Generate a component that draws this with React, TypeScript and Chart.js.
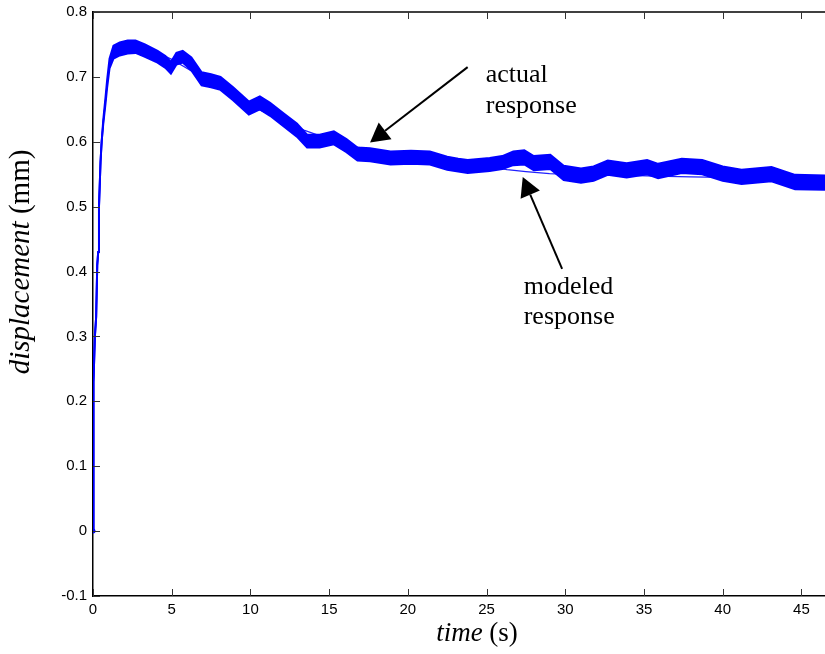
import { useEffect, useRef } from 'react';
import { Chart, registerables } from 'chart.js';

Chart.register(...registerables);

// ---- data ----
// actual (measured) response: band times, upper and lower envelope of the noisy trace
const actualTime = [
  0, 0.01, 0.03, 0.05, 0.12, 0.2, 0.27, 0.33, 0.38, 0.48, 0.55, 0.65, 0.8, 0.9, 1.05, 1.3, 1.7, 2.2, 2.7,
  3.3, 4.1, 4.6, 4.95, 5.3, 5.7, 6.25, 6.9, 7.5, 8.1, 8.9, 9.9, 10.6, 11.25, 12.1, 12.95, 13.6, 14.4,
  15.3, 16.1, 16.8, 17.6, 18.9, 20.2, 21.4, 22.5, 23.2, 23.8, 25.2, 26.0, 26.7, 27.4, 28.0, 29.05, 29.9,
  31.0, 31.8, 32.7, 33.9, 35.2, 35.9, 37.4, 38.7, 40.0, 41.2, 43.1, 44.6, 46.5,
];
const actualUpper = [
  0, 0.10, 0.135, 0.23, 0.30, 0.33, 0.41, 0.43, 0.50, 0.57, 0.60, 0.633, 0.670, 0.696, 0.728, 0.748, 0.753,
  0.756, 0.756, 0.750, 0.740, 0.732, 0.723, 0.737, 0.740, 0.730, 0.707, 0.704, 0.700, 0.684, 0.662, 0.670,
  0.660, 0.644, 0.628, 0.611, 0.611, 0.616, 0.604, 0.591, 0.590, 0.585, 0.586, 0.585, 0.577, 0.574, 0.572,
  0.575, 0.578, 0.585, 0.587, 0.578, 0.580, 0.563, 0.559, 0.562, 0.571, 0.567, 0.572, 0.566, 0.574, 0.572,
  0.562, 0.557, 0.561, 0.549, 0.548,
];
const actualLower = [
  0, 0.10, 0.135, 0.23, 0.30, 0.33, 0.41, 0.43, 0.50, 0.57, 0.60, 0.627, 0.660, 0.684, 0.713, 0.728, 0.733,
  0.736, 0.737, 0.731, 0.722, 0.714, 0.705, 0.719, 0.722, 0.710, 0.687, 0.684, 0.680, 0.664, 0.642, 0.650,
  0.640, 0.624, 0.608, 0.591, 0.591, 0.596, 0.584, 0.571, 0.570, 0.565, 0.566, 0.565, 0.557, 0.554, 0.552,
  0.555, 0.558, 0.564, 0.565, 0.556, 0.558, 0.541, 0.537, 0.540, 0.549, 0.545, 0.550, 0.544, 0.552, 0.550,
  0.540, 0.535, 0.539, 0.527, 0.526,
];

// modeled response (thin smooth line)
const modelTime = [
  0, 0.01, 0.03, 0.05, 0.12, 0.2, 0.27, 0.33, 0.38, 0.48, 0.55, 0.65, 0.8, 0.9, 1.05, 1.5, 2.2, 3.0, 4.0,
  4.5, 5.0, 6.2, 7.0, 8.0, 9.0, 10.0, 10.6, 12.0, 13.4, 15.0, 16.8, 18.9, 20.0, 22.0, 24.0, 26.3, 27.5,
  29.0, 31.0, 33.0, 35.7, 38.0, 40.0, 43.0, 46.5,
];
const modelValues = [
  0, 0.10, 0.135, 0.23, 0.30, 0.33, 0.41, 0.43, 0.50, 0.57, 0.60, 0.63, 0.665, 0.69, 0.72, 0.738, 0.744,
  0.742, 0.735, 0.733, 0.727, 0.71, 0.697, 0.683, 0.668, 0.655, 0.649, 0.632, 0.618, 0.604, 0.592, 0.582,
  0.578, 0.571, 0.565, 0.557, 0.554, 0.551, 0.549, 0.549, 0.547, 0.546, 0.545, 0.543, 0.54,
];

// axis ranges / ticks
const xRange = [0, 46.5];
const yRange = [-0.1, 0.8];
const xStep = 5;
const yStep = 0.1;

// annotations (data coordinates)
const actualArrow = { from: [23.8, 0.715], to: [17.6, 0.599] };
const modelArrow = { from: [29.8, 0.404], to: [27.3, 0.5456] };
const actualLabel = { at: [24.95, 0.692], lines: ['actual', 'response'] };
const modelLabel = { at: [27.36, 0.366], lines: ['modeled', 'response'] };

const SERIF = '"Liberation Serif", "Times New Roman", serif';
const SANS = '"Liberation Sans", Arial, sans-serif';

function drawMixed(ctx: CanvasRenderingContext2D, parts: { text: string; font: string }[], cx: number, cy: number) {
  let total = 0;
  const widths = parts.map((p) => {
    ctx.font = p.font;
    const w = ctx.measureText(p.text).width;
    total += w;
    return w;
  });
  let x = cx - total / 2;
  parts.forEach((p, i) => {
    ctx.font = p.font;
    ctx.fillText(p.text, x, cy);
    x += widths[i];
  });
}

function drawArrow(ctx: CanvasRenderingContext2D, x0: number, y0: number, x1: number, y1: number) {
  const dx = x1 - x0;
  const dy = y1 - y0;
  const len = Math.hypot(dx, dy);
  const ux = dx / len;
  const uy = dy / len;
  const headLen = 19;
  const headHalf = 10.5;
  const bx = x1 - ux * headLen;
  const by = y1 - uy * headLen;
  ctx.strokeStyle = '#000';
  ctx.lineWidth = 2;
  ctx.beginPath();
  ctx.moveTo(x0, y0);
  ctx.lineTo(bx, by);
  ctx.stroke();
  ctx.fillStyle = '#000';
  ctx.beginPath();
  ctx.moveTo(x1, y1);
  ctx.lineTo(bx - uy * headHalf, by + ux * headHalf);
  ctx.lineTo(bx + uy * headHalf, by - ux * headHalf);
  ctx.closePath();
  ctx.fill();
}

const overlayPlugin = {
  id: 'overlay',
  afterDraw(chart: any) {
    const { ctx, chartArea: a, scales } = chart;
    const xs = scales.x;
    const ys = scales.y;
    ctx.save();
    // top border
    ctx.strokeStyle = '#000';
    ctx.lineWidth = 1.5;
    ctx.beginPath();
    ctx.moveTo(a.left, a.top);
    ctx.lineTo(a.right, a.top);
    ctx.stroke();
    // inward ticks
    ctx.strokeStyle = '#333';
    ctx.lineWidth = 1;
    ctx.beginPath();
    xs.ticks.forEach((t: any) => {
      const px = Math.round(xs.getPixelForValue(t.value)) + 0.5;
      ctx.moveTo(px, a.bottom);
      ctx.lineTo(px, a.bottom - 7);
      ctx.moveTo(px, a.top);
      ctx.lineTo(px, a.top + 7);
    });
    ys.ticks.forEach((t: any) => {
      const py = Math.round(ys.getPixelForValue(t.value)) + 0.5;
      ctx.moveTo(a.left, py);
      ctx.lineTo(a.left + 7, py);
    });
    ctx.stroke();

    // axis titles
    ctx.fillStyle = '#000';
    ctx.textAlign = 'left';
    ctx.textBaseline = 'alphabetic';
    drawMixed(
      ctx,
      [
        { text: 'time', font: `italic 27px ${SERIF}` },
        { text: ' (s)', font: `27px ${SERIF}` },
      ],
      477,
      641,
    );
    ctx.save();
    ctx.translate(29, 262);
    ctx.rotate(-Math.PI / 2);
    drawMixed(
      ctx,
      [
        { text: 'displacement', font: `italic 29px ${SERIF}` },
        { text: ' (mm)', font: `29px ${SERIF}` },
      ],
      0,
      0,
    );
    ctx.restore();

    // arrows
    [actualArrow, modelArrow].forEach((ar) => {
      drawArrow(
        ctx,
        xs.getPixelForValue(ar.from[0]),
        ys.getPixelForValue(ar.from[1]),
        xs.getPixelForValue(ar.to[0]),
        ys.getPixelForValue(ar.to[1]),
      );
    });
    // annotation texts
    ctx.fillStyle = '#000';
    ctx.font = `26px ${SERIF}`;
    [actualLabel, modelLabel].forEach((lb) => {
      const px = xs.getPixelForValue(lb.at[0]);
      const py = ys.getPixelForValue(lb.at[1]);
      lb.lines.forEach((ln, i) => ctx.fillText(ln, px, py + i * 30.5));
    });
    ctx.restore();
  },
};

export default function App() {
  const canvasRef = useRef<HTMLCanvasElement | null>(null);

  useEffect(() => {
    document.body.style.margin = '0';
    const canvas = canvasRef.current;
    if (!canvas) return;
    const lower = actualTime.map((t, i) => ({ x: t, y: actualLower[i] }));
    const upper = actualTime.map((t, i) => ({ x: t, y: actualUpper[i] }));
    const model = modelTime.map((t, i) => ({ x: t, y: modelValues[i] }));

    const chart = new Chart(canvas, {
      type: 'line',
      data: {
        datasets: [
          {
            label: 'actual response (lower)',
            data: lower,
            borderColor: '#0000ff',
            borderWidth: 2,
            pointRadius: 0,
            pointHoverRadius: 0,
            fill: false,
            tension: 0,
          },
          {
            label: 'actual response',
            data: upper,
            borderColor: '#0000ff',
            backgroundColor: '#0000ff',
            borderWidth: 2,
            pointRadius: 0,
            pointHoverRadius: 0,
            fill: '-1',
            tension: 0,
          },
          {
            label: 'modeled response',
            data: model,
            borderColor: '#2020ff',
            borderWidth: 1.2,
            pointRadius: (ctx: any) => (ctx.dataIndex === 0 ? 2.5 : 0),
            pointHoverRadius: 0,
            pointBackgroundColor: '#0000ff',
            pointBorderWidth: 0,
            fill: false,
            tension: 0,
          },
        ],
      },
      options: {
        animation: false,
        responsive: false,
        devicePixelRatio: 1,
        layout: { autoPadding: false, padding: { left: 0, top: 12, right: 0, bottom: 0 } },
        plugins: {
          legend: { display: false },
          tooltip: { enabled: false },
        },
        scales: {
          x: {
            type: 'linear',
            min: xRange[0],
            max: xRange[1],
            grid: { display: false, drawTicks: false },
            border: { display: true, color: '#000', width: 1.5 },
            ticks: {
              stepSize: xStep,
              includeBounds: false,
              padding: 5,
              color: '#000',
              font: { family: SANS, size: 15 },
              maxRotation: 0,
            },
            afterFit: (s: any) => {
              s.height = 58;
              s.paddingLeft = 0;
              s.paddingRight = 0;
            },
          },
          y: {
            type: 'linear',
            min: yRange[0],
            max: yRange[1],
            grid: { display: false, drawTicks: false },
            border: { display: true, color: '#000', width: 1.5 },
            ticks: {
              stepSize: yStep,
              padding: 6,
              color: '#000',
              font: { family: SANS, size: 15 },
            },
            afterFit: (s: any) => {
              s.width = 93;
              s.paddingTop = 0;
              s.paddingBottom = 0;
            },
          },
        },
      },
      plugins: [overlayPlugin],
    } as any);

    return () => chart.destroy();
  }, []);

  return (
    <div style={{ width: 825, height: 654 }}>
      <canvas ref={canvasRef} width={825} height={654} style={{ display: 'block' }} />
    </div>
  );
}
